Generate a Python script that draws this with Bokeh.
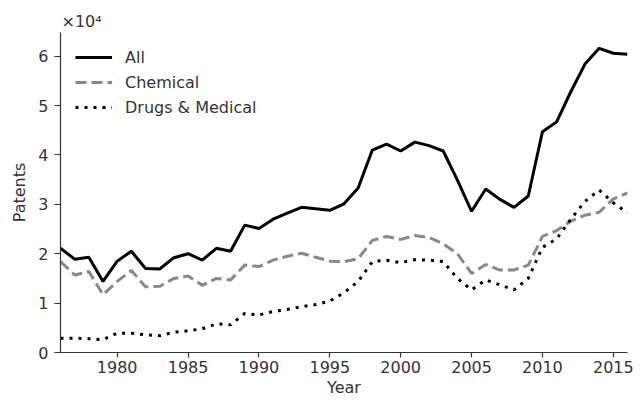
from bokeh.plotting import figure
from bokeh.models import (ColumnDataSource, Legend, LegendItem, Range1d, FixedTicker,
                          CustomJSTickFormatter)
from bokeh.embed import file_html
from bokeh.resources import INLINE

years = list(range(1976, 2017))

all_patents = [21100, 18900, 19300, 14400, 18500, 20500, 17000, 16900, 19200, 20000,
               18700, 21100, 20500, 25800, 25100, 27000, 28200, 29400, 29100, 28800,
               30100, 33300, 41000, 42200, 40800, 42600, 41900, 40800, 34900, 28600,
               33100, 31000, 29400, 31700, 44700, 46700, 52800, 58400, 61600, 60600, 60400]

chemical = [18400, 15700, 16400, 11700, 14400, 16600, 13300, 13400, 15000, 15500,
            13600, 15000, 14700, 17700, 17400, 18700, 19500, 20100, 19300, 18500,
            18400, 19000, 22700, 23500, 22900, 23700, 23300, 22000, 20000, 16000,
            17800, 16700, 16700, 17700, 23500, 24700, 26600, 27800, 28400, 31100, 32300]

drugs_medical = [2900, 2900, 2800, 2600, 3900, 3900, 3600, 3400, 4100, 4400,
                 4800, 5800, 5600, 7900, 7600, 8300, 8700, 9300, 9700, 10400,
                 12100, 14400, 18400, 18700, 18200, 18800, 18700, 18400, 15000, 12700,
                 14700, 13700, 12700, 15000, 21300, 23000, 27000, 30600, 32900, 30300, 28300]

y_ticks = [0, 10000, 20000, 30000, 40000, 50000, 60000]
x_ticks = [1980, 1985, 1990, 1995, 2000, 2005, 2010, 2015]

src = ColumnDataSource(dict(year=years, all=all_patents, chem=chemical, drugs=drugs_medical))

TXT = "#333333"
FONT = "DejaVu Sans"

p = figure(width=634, height=400, output_backend="svg", toolbar_location=None,
           x_range=Range1d(1976, 2016), y_range=Range1d(0, 64800),
           min_border_left=60, min_border_right=7, min_border_top=32, min_border_bottom=48)

r_all = p.line("year", "all", source=src, line_color="black", line_width=3)
r_chem = p.line("year", "chem", source=src, line_color="#888888", line_width=3, line_dash="11 5")
r_drugs = p.line("year", "drugs", source=src, line_color="black", line_width=3, line_dash="3 6")

p.grid.visible = False
p.outline_line_color = None
p.background_fill_color = "white"
p.border_fill_color = "white"

p.title.text = "×10⁴"
p.title.align = "left"
p.title.offset = 1
p.title.standoff = 4
p.title.text_font = FONT
p.title.text_font_size = "16px"
p.title.text_font_style = "normal"
p.title.text_color = TXT

for ax in (p.xaxis[0], p.yaxis[0]):
    ax.axis_line_color = TXT
    ax.axis_line_width = 1.2
    ax.major_tick_line_color = TXT
    ax.major_tick_line_width = 1.2
    ax.major_tick_in = 0
    ax.minor_tick_line_color = None
    ax.major_label_text_font = FONT
    ax.major_label_text_font_size = "16px"
    ax.major_label_text_color = TXT
    ax.axis_label_text_font = FONT
    ax.axis_label_text_font_size = "16px"
    ax.axis_label_text_color = TXT
    ax.axis_label_text_font_style = "normal"

p.xaxis.ticker = FixedTicker(ticks=x_ticks)
p.yaxis.ticker = FixedTicker(ticks=y_ticks)
p.yaxis.formatter = CustomJSTickFormatter(code="return (tick/10000).toFixed(0);")
p.xaxis.axis_label = "Year"
p.yaxis.axis_label = "Patents"
p.xaxis.major_tick_out = 5
p.yaxis.major_tick_out = 6
p.xaxis.major_label_standoff = 3
p.yaxis.major_label_standoff = 6
p.xaxis.axis_label_standoff = 2
p.yaxis.axis_label_standoff = 6

legend = Legend(items=[LegendItem(label="All", renderers=[r_all]),
                       LegendItem(label="Chemical", renderers=[r_chem]),
                       LegendItem(label="Drugs & Medical", renderers=[r_drugs])],
                location="top_left", border_line_color=None, background_fill_alpha=0,
                label_text_font=FONT, label_text_font_size="16px", label_text_color=TXT,
                glyph_width=37, glyph_height=20, label_height=20, spacing=5,
                label_standoff=13, margin=15, padding=13)
p.add_layout(legend)

open("out.html", "w").write(file_html(p, INLINE))
